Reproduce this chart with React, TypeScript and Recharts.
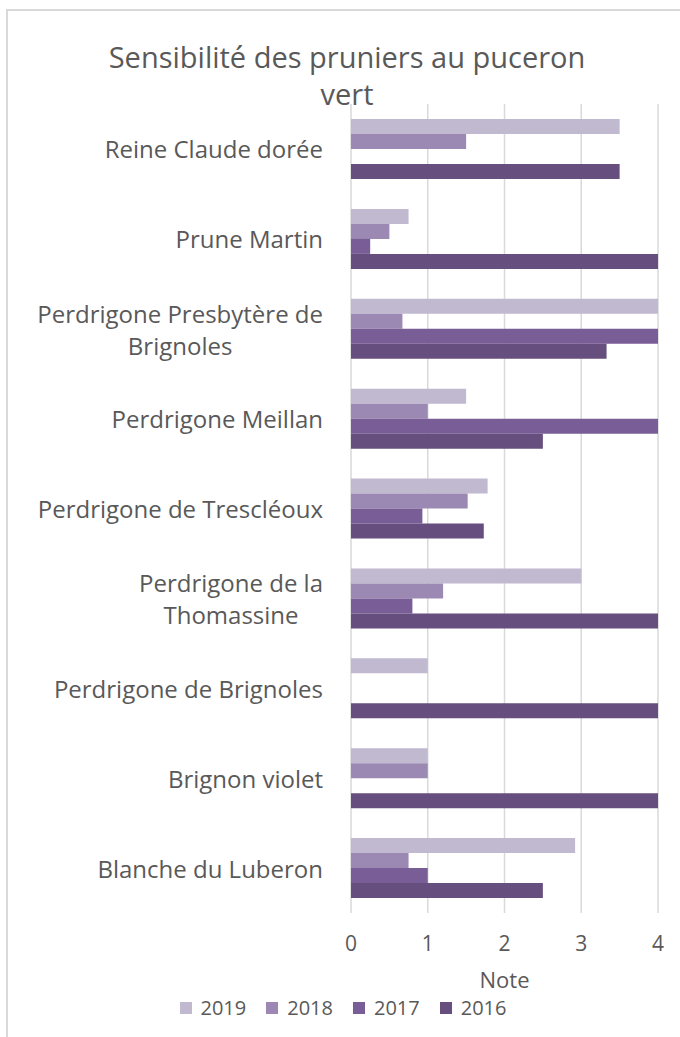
import React from 'react';
import { BarChart, Bar, XAxis, YAxis, CartesianGrid, Legend } from 'recharts';

const varieties = [
  'Reine Claude dorée',
  'Prune Martin',
  'Perdrigone Presbytère de Brignoles',
  'Perdrigone Meillan',
  'Perdrigone de Trescléoux',
  'Perdrigone de la Thomassine',
  'Perdrigone de Brignoles',
  'Brignon violet',
  'Blanche du Luberon',
];

// labels that wrap onto two lines in the original
const wrappedLabels: Record<string, string[]> = {
  'Perdrigone Presbytère de Brignoles': ['Perdrigone Presbytère de', 'Brignoles'],
  'Perdrigone de la Thomassine': ['Perdrigone de la', 'Thomassine'],
};

const years = ['2019', '2018', '2017', '2016'];
const v2019 = [3.5, 0.75, 4, 1.5, 1.78, 3, 1, 1, 2.92];
const v2018 = [1.5, 0.5, 0.67, 1, 1.52, 1.2, null, 1, 0.75];
const v2017 = [null, 0.25, 4, 4, 0.93, 0.8, null, null, 1];
const v2016 = [3.5, 4, 3.33, 2.5, 1.73, 4, 4, 4, 2.5];
const xTicks = [0, 1, 2, 3, 4];

const colors = ['#c1b9d0', '#9c89b3', '#785d96', '#664f7e'];
const TEXT = '#595959';
const FONT = '"Open Sans", sans-serif';

const data = varieties.map((name, i) => ({
  name,
  '2019': v2019[i],
  '2018': v2018[i],
  '2017': v2017[i],
  '2016': v2016[i],
}));

let ctx: CanvasRenderingContext2D | null = null;
function textWidth(s: string, size: number): number {
  if (!ctx) ctx = document.createElement('canvas').getContext('2d');
  if (!ctx) return s.length * size * 0.5;
  ctx.font = `${size}px "Open Sans"`;
  return ctx.measureText(s).width;
}

function CategoryTick({ x, y, payload }: any) {
  const lines = wrappedLabels[payload.value] ?? [payload.value];
  if (lines.length === 1) {
    return (
      <text x={x} y={y} textAnchor="end" dominantBaseline="central"
        fill={TEXT} fontSize={24} fontFamily={FONT}>
        {lines[0]}
      </text>
    );
  }
  const cx = x - textWidth(lines[0], 24) / 2;
  return (
    <text textAnchor="middle" dominantBaseline="central" fill={TEXT} fontSize={24} fontFamily={FONT}>
      {lines.map((l: string, i: number) => (
        <tspan key={i} x={cx} y={y + (i - (lines.length - 1) / 2) * 32}>{l}</tspan>
      ))}
    </text>
  );
}

function NumberTick({ x, y, payload }: any) {
  return (
    <text x={x} y={y + 30} textAnchor="middle" dominantBaseline="central"
      fill={TEXT} fontSize={21} fontFamily={FONT}>
      {payload.value}
    </text>
  );
}

function LegendContent({ payload }: any) {
  // keep the 2019 → 2016 order of the original legend
  const items = [...(payload ?? [])].sort(
    (a: any, b: any) => years.indexOf(String(a.value)) - years.indexOf(String(b.value)));
  return (
    <div style={{ display: 'flex', justifyContent: 'center', paddingLeft: 26, fontFamily: FONT, fontSize: 20, color: TEXT, lineHeight: '24px' }}>
      {items.map((p: any) => (
        <span key={p.value} style={{ display: 'inline-flex', alignItems: 'center', marginRight: 20 }}>
          <span style={{ flex: '0 0 12px', width: 12, height: 12, background: p.color, marginRight: 9 }} />
          {p.value}
        </span>
      ))}
    </div>
  );
}

export default function App() {
  const titleStyle: React.CSSProperties = {
    position: 'absolute', left: 0, width: 694, height: 37, textAlign: 'center',
    fontFamily: FONT, fontSize: 29, lineHeight: '37px', color: TEXT, whiteSpace: 'nowrap',
  };
  return (
    <div style={{ position: 'absolute', left: 0, top: 0, width: 680, height: 1037, overflow: 'hidden', background: '#fff' }}>
      <div style={{ position: 'absolute', left: 6, top: 9, width: 700, height: 1100, borderLeft: '2px solid #d9d9d9', borderTop: '2px solid #d9d9d9' }} />
      <div style={{ ...titleStyle, top: 38 }}>Sensibilité des pruniers au puceron</div>
      <div style={{ ...titleStyle, top: 75 }}>vert</div>
      <div style={{ position: 'absolute', left: 0, top: 0 }}>
        <BarChart width={680} height={1037} data={data} layout="vertical"
          margin={{ top: 104, right: 22, bottom: 44, left: 0 }}
          barSize={15} barGap={0}>
          <CartesianGrid horizontal={false} stroke="#d9d9d9" strokeWidth={1.5} />
          <XAxis type="number" domain={[0, 4]} ticks={xTicks} height={80}
            axisLine={false} tickLine={false} tickSize={0} tickMargin={0}
            tick={<NumberTick />}
            label={{ value: 'Note', position: 'insideBottom', offset: 5, fill: TEXT, fontSize: 22, fontFamily: FONT }} />
          <YAxis type="category" dataKey="name" width={351}
            axisLine={false} tickLine={false} tickSize={0} tickMargin={28}
            interval={0} tick={<CategoryTick />} />
          <Legend layout="horizontal" verticalAlign="middle" align="center"
            wrapperStyle={{ top: 996, left: 0, width: 680, height: 24 }}
            content={<LegendContent />} />
          {years.map((y, i) => (
            <Bar key={y} dataKey={y} fill={colors[i]} isAnimationActive={false} />
          ))}
        </BarChart>
      </div>
    </div>
  );
}
